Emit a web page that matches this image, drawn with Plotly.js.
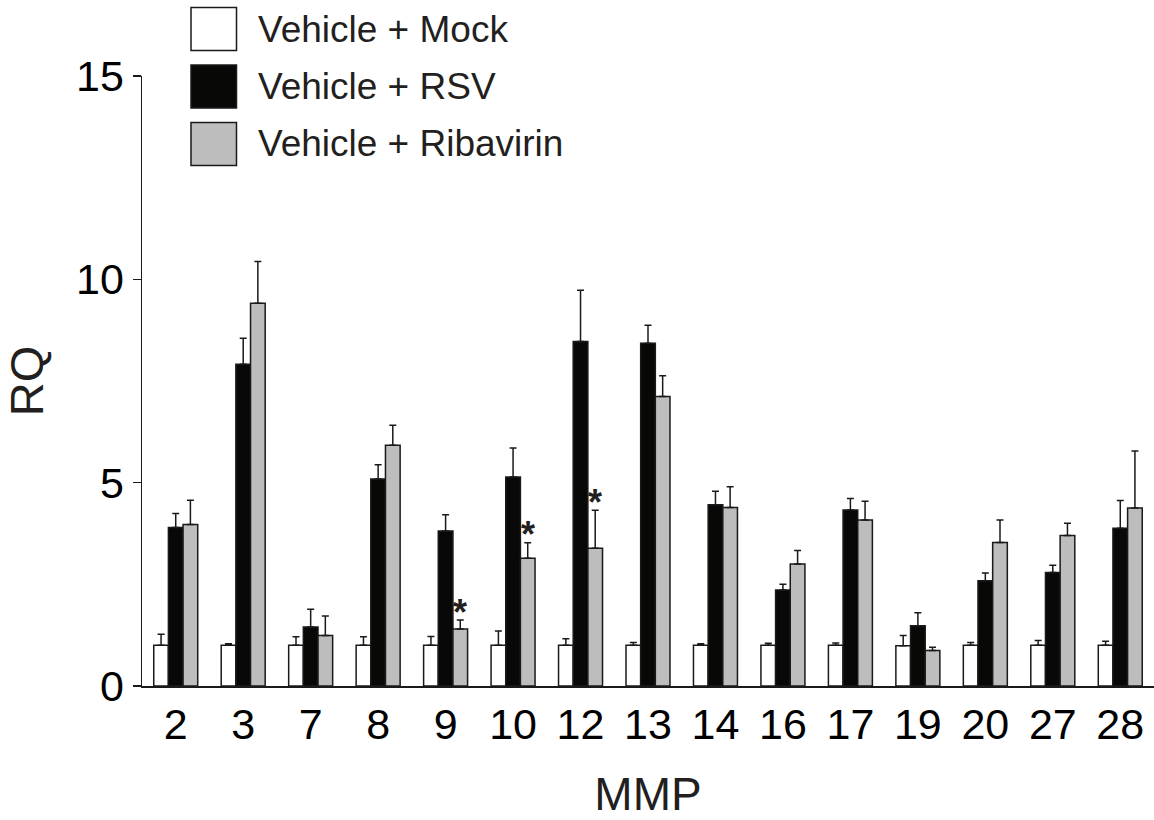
<!DOCTYPE html>
<html>
<head>
<meta charset="utf-8">
<script src="https://cdn.plot.ly/plotly-3.0.1.min.js"></script>
<style>html,body{margin:0;padding:0;background:#fff;}#chart{width:1154px;height:820px;}</style>
</head>
<body>
<div id="chart"></div>
<script>
// Categories (MMP number)
const categories = ["2","3","7","8","9","10","12","13","14","16","17","19","20","27","28"];

// Series names
const seriesNames = ["Vehicle + Mock", "Vehicle + RSV", "Vehicle + Ribavirin"];

// Mean RQ values
const mockValues = [1.00,1.00,1.00,1.00,1.00,1.00,1.00,1.00,1.00,1.00,1.00,0.99,1.00,1.00,1.00];
const rsvValues  = [3.90,7.91,1.45,5.09,3.81,5.14,8.47,8.43,4.46,2.36,4.33,1.48,2.59,2.79,3.88];
const ribValues  = [3.97,9.41,1.24,5.92,1.40,3.14,3.39,7.12,4.39,3.00,4.08,0.87,3.53,3.70,4.38];

// Upper error (SEM)
const mockErr = [0.27,0.04,0.21,0.21,0.22,0.35,0.16,0.07,0.04,0.05,0.06,0.25,0.07,0.12,0.10];
const rsvErr  = [0.34,0.64,0.44,0.35,0.40,0.71,1.26,0.44,0.33,0.14,0.28,0.32,0.19,0.18,0.68];
const ribErr  = [0.60,1.03,0.48,0.49,0.22,0.38,0.93,0.51,0.51,0.33,0.46,0.08,0.55,0.30,1.40];

// Significance markers (on Ribavirin bars)
const starCategories = ["9","10","12"];

// Axis ticks
const yTickVals = [0,5,10,15];

const FONT = "Liberation Sans, Arial, Helvetica, sans-serif";
const colors = ["#ffffff", "#080806", "#bdbdbd"];
const zeros = categories.map(() => 0);

function makeTrace(name, vals, errs, color) {
  return {
    type: "bar",
    name: name,
    x: categories,
    y: vals,
    marker: {color: color, line: {color: "#1a1a1a", width: 1.5}},
    error_y: {type: "data", symmetric: false, array: errs, arrayminus: zeros,
              color: "#1a1a1a", thickness: 1.5, width: 3.5},
    showlegend: false,
    hoverinfo: "x+y"
  };
}

const traces = [
  makeTrace(seriesNames[0], mockValues, mockErr, colors[0]),
  makeTrace(seriesNames[1], rsvValues, rsvErr, colors[1]),
  makeTrace(seriesNames[2], ribValues, ribErr, colors[2])
];

// Plot area geometry (pixels) for legend placement in paper coords
const W = 1154, H = 820, ML = 142, MR = 0, MT = 76, MB = 134;
const pw = W - ML - MR, ph = H - MT - MB;
const px = v => (v - ML) / pw;
const py = v => (H - MB - v) / ph;

const shapes = [];
const annotations = [];
const legendRows = [[7.5, 50.5], [65, 108], [122.5, 165.5]];
seriesNames.forEach((n, i) => {
  const r = legendRows[i];
  shapes.push({type: "rect", xref: "paper", yref: "paper",
    x0: px(191), x1: px(236.5), y0: py(r[1]), y1: py(r[0]),
    fillcolor: colors[i], line: {color: "#1a1a1a", width: 1.5}});
  annotations.push({xref: "paper", yref: "paper", x: px(256), y: py((r[0] + r[1]) / 2),
    xanchor: "left", yanchor: "middle", showarrow: false, text: n,
    font: {family: FONT, size: 37, color: "#231f20"}});
});

// position of the third bar within a group (category index units)
const groupFrac = 0.652;
const ribOffset = groupFrac / 3;
starCategories.forEach(c => {
  const i = categories.indexOf(c);
  annotations.push({x: i + ribOffset, y: ribValues[i] + ribErr[i], xref: "x", yref: "y",
    yshift: 8, xanchor: "center", yanchor: "middle",
    showarrow: false, text: "<b>*</b>", font: {family: FONT, size: 36, color: "#231f20"}});
});

const layout = {
  width: W, height: H,
  margin: {l: ML, r: MR, t: MT, b: MB, pad: 0},
  paper_bgcolor: "#ffffff", plot_bgcolor: "#ffffff",
  font: {family: FONT, color: "#111"},
  barmode: "group",
  bargap: 1 - groupFrac,
  bargroupgap: 0,
  showlegend: false,
  xaxis: {
    type: "category",
    range: [-0.5, categories.length - 0.5],
    showline: true, linecolor: "#1a1a1a", linewidth: 1.5,
    ticks: "", showgrid: false, zeroline: false,
    tickfont: {family: FONT, size: 43, color: "#000"},
    title: {text: "MMP", font: {family: FONT, size: 46, color: "#231f20"}, standoff: 36},
    fixedrange: true
  },
  yaxis: {
    range: [0, 15],
    tickvals: yTickVals,
    ticktext: yTickVals.map(String),
    ticks: "outside", ticklen: 8, tickwidth: 1.5, tickcolor: "#1a1a1a",
    showline: true, linecolor: "#1a1a1a", linewidth: 1.5,
    showgrid: false, zeroline: false,
    tickfont: {family: FONT, size: 43, color: "#000"},
    title: {text: "RQ", font: {family: FONT, size: 47, color: "#231f20"}, standoff: 24},
    fixedrange: true
  },
  shapes: shapes,
  annotations: annotations
};

Plotly.newPlot("chart", traces, layout, {displayModeBar: false, staticPlot: true});
</script>
</body>
</html>
